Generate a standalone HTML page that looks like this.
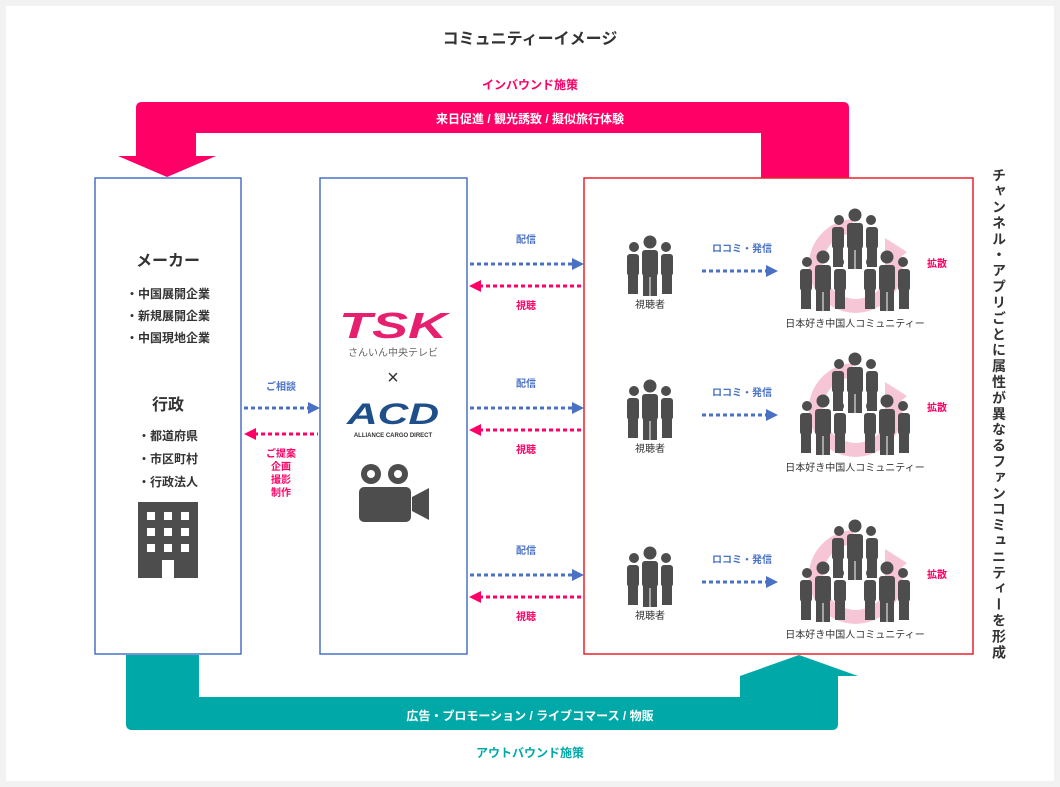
<!DOCTYPE html>
<html><head><meta charset="utf-8"><style>
body{margin:0;background:#f2f2f2;position:relative;width:1060px;height:787px;overflow:hidden;}
svg{display:block;font-family:"Liberation Sans","Noto Sans CJK JP",sans-serif;}
.vt{position:absolute;left:989px;top:168px;writing-mode:vertical-rl;font-family:"Liberation Sans","Noto Sans CJK JP",sans-serif;font-size:14px;font-weight:bold;color:#333;letter-spacing:1.9px;line-height:20px;}
</style></head><body>
<svg width="1060" height="787" viewBox="0 0 1060 787" xmlns="http://www.w3.org/2000/svg">
<defs>
<g id="p3">
 <circle cx="0" cy="-27" r="6.5" fill="#4d4d4d"/>
 <rect x="-8" y="-19" width="16" height="26" rx="3" fill="#4d4d4d"/>
 <rect x="-7" y="5" width="14" height="22" fill="#4d4d4d"/>
 <circle cx="-16" cy="-22" r="5" fill="#4d4d4d"/>
 <rect x="-23" y="-15" width="12" height="22" rx="3" fill="#4d4d4d"/>
 <rect x="-22" y="5" width="10" height="20" fill="#4d4d4d"/>
 <circle cx="16" cy="-22" r="5" fill="#4d4d4d"/>
 <rect x="11" y="-15" width="12" height="22" rx="3" fill="#4d4d4d"/>
 <rect x="12" y="5" width="10" height="20" fill="#4d4d4d"/>
 <line x1="0" y1="8" x2="0" y2="27" stroke="#fff" stroke-width="1"/>
</g>
<g id="comm">
 <circle cx="0" cy="2" r="40" fill="none" stroke="#f7c6d6" stroke-width="14" stroke-dasharray="200 52" transform="rotate(-20)"/>
 <polygon points="30,-26 52,-12 30,6" fill="#f7c6d6"/>
 <use href="#p3" transform="translate(0,-22)"/>
 <use href="#p3" transform="translate(-32,20)"/>
 <use href="#p3" transform="translate(32,20)"/>
</g>
<g id="row">
 <line x1="470" y1="0" x2="574" y2="0" stroke="#4a72c4" stroke-width="3" stroke-dasharray="4 3"/>
 <polygon points="572,-6 584,0 572,6" fill="#4a72c4"/>
 <line x1="479" y1="22" x2="582" y2="22" stroke="#ff0066" stroke-width="3" stroke-dasharray="4 3"/>
 <polygon points="481,16 469,22 481,28" fill="#ff0066"/>
 <text x="526" y="-21" font-size="10" font-weight="bold" fill="#4a72c4" text-anchor="middle">配信</text>
 <text x="526" y="45" font-size="10" font-weight="bold" fill="#ff0066" text-anchor="middle">視聴</text>
 <use href="#p3" transform="translate(650,5)"/>
 <text x="650" y="44" font-size="10" fill="#333" text-anchor="middle">視聴者</text>
 <text x="742" y="-12" font-size="10" font-weight="bold" fill="#4a72c4" text-anchor="middle">ロコミ・発信</text>
 <line x1="702" y1="7" x2="768" y2="7" stroke="#4a72c4" stroke-width="3" stroke-dasharray="4 3"/>
 <polygon points="766,1 778,7 766,13" fill="#4a72c4"/>
 <use href="#comm" transform="translate(855,0)"/>
 <text x="855" y="63" font-size="10" fill="#333" text-anchor="middle">日本好き中国人コミュニティー</text>
 <text x="937" y="3" font-size="10" font-weight="bold" fill="#ff0066" text-anchor="middle">拡散</text>
</g>
</defs>
<rect x="6" y="6" width="1048" height="775" fill="#fff"/>
<text x="530" y="44" font-size="16" font-weight="bold" fill="#333" text-anchor="middle">コミュニティーイメージ</text>
<text x="530" y="89" font-size="12" font-weight="bold" fill="#ff0066" text-anchor="middle">インバウンド施策</text>
<path d="M136,108 Q136,102 142,102 L843,102 Q849,102 849,108 L849,178 L761,178 L761,133 L196,133 L196,156 L216,156 L167,177 L118,156 L136,156 Z" fill="#ff0066"/>
<text x="530" y="123" font-size="12" font-weight="bold" fill="#fff" text-anchor="middle">来日促進 / 観光誘致 / 擬似旅行体験</text>
<path d="M126,655 L199,655 L199,697 L740,697 L740,676 L838,676 L838,724 Q838,730 832,730 L132,730 Q126,730 126,724 Z" fill="#00a9a8"/>
<polygon points="740,676 858,676 799,655" fill="#00a9a8"/>
<text x="530" y="720" font-size="12" font-weight="bold" fill="#fff" text-anchor="middle">広告・プロモーション / ライブコマース / 物販</text>
<text x="530" y="757" font-size="12" font-weight="bold" fill="#00a9a8" text-anchor="middle">アウトバウンド施策</text>
<rect x="95" y="178" width="146" height="476" fill="#fff" stroke="#4a72c4" stroke-width="1.5"/>
<rect x="320" y="178" width="147" height="476" fill="#fff" stroke="#4a72c4" stroke-width="1.5"/>
<rect x="584" y="178" width="389" height="476" fill="#fff" stroke="#e8202a" stroke-width="1.5"/>
<g font-weight="bold" fill="#333" text-anchor="middle">
<text x="168" y="266" font-size="16">メーカー</text>
<text x="168" y="298" font-size="12">・中国展開企業</text>
<text x="168" y="320" font-size="12">・新規展開企業</text>
<text x="168" y="342" font-size="12">・中国現地企業</text>
<text x="168" y="410" font-size="16">行政</text>
<text x="168" y="440" font-size="12">・都道府県</text>
<text x="168" y="463" font-size="12">・市区町村</text>
<text x="168" y="486" font-size="12">・行政法人</text>
</g>
<rect x="138" y="502" width="60" height="76" fill="#4d4d4d"/>
<g fill="#fff">
<rect x="147" y="512" width="8" height="8"/><rect x="164" y="512" width="8" height="8"/><rect x="181" y="512" width="8" height="8"/>
<rect x="147" y="528" width="8" height="8"/><rect x="164" y="528" width="8" height="8"/><rect x="181" y="528" width="8" height="8"/>
<rect x="147" y="544" width="8" height="8"/><rect x="164" y="544" width="8" height="8"/><rect x="181" y="544" width="8" height="8"/>
<rect x="162" y="560" width="12" height="18"/>
</g>
<text x="281" y="390" font-size="10" font-weight="bold" fill="#4a72c4" text-anchor="middle">ご相談</text>
<line x1="244" y1="408" x2="310" y2="408" stroke="#4a72c4" stroke-width="3" stroke-dasharray="4 3"/>
<polygon points="308,402 320,408 308,414" fill="#4a72c4"/>
<line x1="254" y1="434" x2="318" y2="434" stroke="#ff0066" stroke-width="3" stroke-dasharray="4 3"/>
<polygon points="256,428 244,434 256,440" fill="#ff0066"/>
<g font-size="10" font-weight="bold" fill="#ff0066" text-anchor="middle">
<text x="281" y="457">ご提案</text><text x="281" y="470">企画</text><text x="281" y="483">撮影</text><text x="281" y="496">制作</text>
</g>
<text x="393" y="338" font-size="36" font-weight="bold" font-style="italic" fill="#e6206e" text-anchor="middle" textLength="108" lengthAdjust="spacingAndGlyphs">TSK</text>
<text x="393" y="356" font-size="10" fill="#666" text-anchor="middle">さんいん中央テレビ</text>
<text x="393" y="384" font-size="20" fill="#333" text-anchor="middle">×</text>
<text x="393" y="424" font-size="30" font-weight="bold" font-style="italic" fill="#1f4f8a" text-anchor="middle" textLength="92" lengthAdjust="spacingAndGlyphs">ACD</text>
<text x="393" y="437" font-size="6" font-weight="bold" fill="#333" text-anchor="middle">ALLIANCE CARGO DIRECT</text>
<circle cx="371" cy="474" r="10" fill="#4d4d4d"/><circle cx="371" cy="474" r="4" fill="#fff"/>
<circle cx="398" cy="474" r="10" fill="#4d4d4d"/><circle cx="398" cy="474" r="4" fill="#fff"/>
<rect x="359" y="487" width="52" height="35" rx="5" fill="#4d4d4d"/>
<polygon points="412,497 429,488 429,520 412,511" fill="#4d4d4d"/>
<use href="#row" transform="translate(0,264)"/>
<use href="#row" transform="translate(0,408)"/>
<use href="#row" transform="translate(0,575)"/>
</svg>
<div class="vt">チャンネル・アプリごとに属性が異なるファンコミュニティーを形成</div>
</body></html>
